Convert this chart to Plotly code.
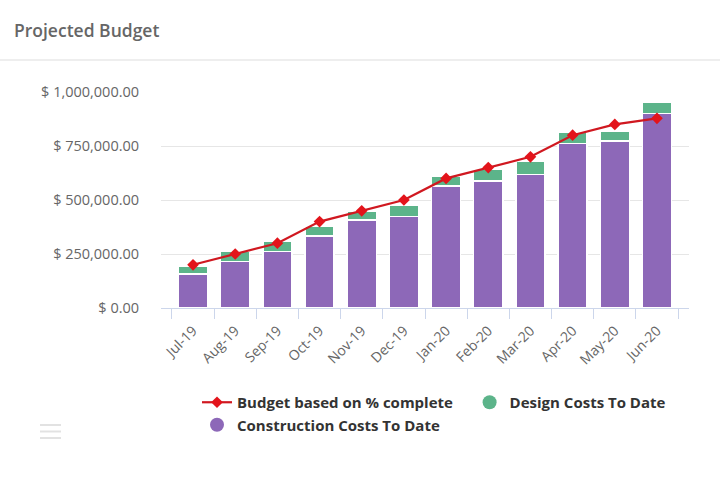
import plotly.graph_objects as go

months = ["Jul-19", "Aug-19", "Sep-19", "Oct-19", "Nov-19", "Dec-19",
          "Jan-20", "Feb-20", "Mar-20", "Apr-20", "May-20", "Jun-20"]
construction = [157000, 214000, 261000, 333000, 407000, 423000,
                565000, 588000, 619000, 762000, 773000, 901000]
design = [37000, 47000, 46000, 47000, 39000, 54000,
          46000, 54000, 58000, 53000, 46000, 50000]
budget = [200000, 250000, 300000, 400000, 450000, 500000,
          600000, 650000, 700000, 800000, 850000, 878000]
y_ticks = [0, 250000, 500000, 750000, 1000000]
y_ticktext = ["$ {:,.2f}".format(v) for v in y_ticks]

PURPLE = "#8d68b8"
GREEN = "#5cb48a"
RED = "#e3141b"
LINE_RED = "#d01820"

W, H = 720, 492
L, R, T, B = 30, 31, 92, 184
PLOT_LEFT = 161
pw, ph = W - L - R, H - T - B

def px(x):
    return (x - L) / pw

def py(y):
    return (H - B - y) / ph

fig = go.Figure()
fig.add_trace(go.Bar(x=months, y=construction, name="Construction Costs To Date",
                     marker=dict(color=PURPLE, line=dict(color="white", width=1.4)),
                     showlegend=False))
fig.add_trace(go.Bar(x=months, y=design, name="Design Costs To Date",
                     marker=dict(color=GREEN, line=dict(color="white", width=1.4)),
                     showlegend=False))
fig.add_trace(go.Scatter(x=months, y=budget, name="Budget based on % complete\u00a0\u00a0\u00a0",
                         mode="lines+markers",
                         line=dict(color=LINE_RED, width=2.2),
                         marker=dict(symbol="diamond", size=9, color=RED),
                         legendrank=1))
fig.add_trace(go.Scatter(x=[None], y=[None], name="Design Costs To Date",
                         mode="markers", marker=dict(symbol="circle", size=14, color=GREEN),
                         legendrank=2))
fig.add_trace(go.Scatter(x=[None], y=[None], name="Construction Costs To Date",
                         mode="markers", marker=dict(symbol="circle", size=14, color=PURPLE),
                         legendrank=3))

shapes = [
    dict(type="line", xref="paper", yref="paper", x0=px(0), x1=px(W), y0=py(60), y1=py(60),
         line=dict(color="#e8e8e8", width=1.5)),
]
for yy in (425, 431.5, 438):
    shapes.append(dict(type="line", xref="paper", yref="paper", x0=px(40), x1=px(61),
                       y0=py(yy), y1=py(yy), line=dict(color="#e2e2e2", width=2)))

fig.update_layout(
    width=W, height=H,
    margin=dict(l=L, r=R, t=T, b=B),
    paper_bgcolor="white", plot_bgcolor="white",
    barmode="stack", bargap=0.31,
    font=dict(family="Open Sans", color="#666666"),
    title=dict(text="Projected Budget", x=14 / W, xanchor="left",
               y=1 - 31 / H, yanchor="middle",
               font=dict(family="Open Sans", size=17.5, color="#666666", weight=600)),
    legend=dict(orientation="h", x=px(197), xanchor="left", y=py(386), yanchor="top",
                font=dict(family="Open Sans", size=15, color="#333333", weight="bold"),
                traceorder="normal", bgcolor="rgba(0,0,0,0)", tracegroupgap=0),
    shapes=shapes,
    showlegend=True,
)
fig.update_yaxes(range=[0, 1000000], tickvals=y_ticks, ticktext=y_ticktext,
                 showgrid=True, gridcolor="#e6e6e6", gridwidth=1,
                 zeroline=False, showline=False,
                 tickfont=dict(size=14.5, color="#666666"),
                 ticks="outside", ticklen=18, tickcolor="rgba(0,0,0,0)")
fig.update_xaxes(type="category", tickangle=-45, tickson="boundaries",
                 domain=[px(PLOT_LEFT), 1],
                 ticks="outside", ticklen=10, tickcolor="#ccd6eb",
                 ticklabelstandoff=8,
                 showline=True, linecolor="#ccd6eb", linewidth=1,
                 showgrid=False, tickfont=dict(size=14, color="#666666"))

fig.write_html("out.html")
